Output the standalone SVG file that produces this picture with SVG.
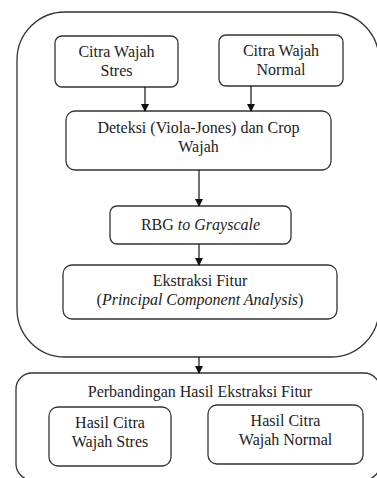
<svg xmlns="http://www.w3.org/2000/svg" width="377" height="478" viewBox="0 0 377 478">
<style>
.box{fill:#fff;stroke:#333;stroke-width:1.3}
.big{fill:none;stroke:#333;stroke-width:1.3}
text{font-family:'Liberation Serif','Times New Roman',Times,serif;font-size:16px;fill:#222;text-anchor:middle}
.i{font-style:italic}
.c{stroke:#111;stroke-width:1.2;fill:none}
</style>
<defs>
<marker id="ah" markerWidth="8" markerHeight="8" refX="7" refY="4" orient="auto" markerUnits="userSpaceOnUse">
<path d="M0,0 L8,4 L0,8 Z" fill="#111"/>
</marker>
</defs>
<rect fill="#fff" width="377" height="478"/>
<g id="outer">
<rect class="big" x="17" y="12" width="362" height="345" rx="48" ry="48"/>
</g>
<g id="compare">
<rect class="big" x="16" y="373" width="364" height="107" rx="16" ry="16"/>
<text x="200" y="397">Perbandingan Hasil Ekstraksi Fitur</text>
</g>
<g id="stres">
<rect class="box" x="55" y="36" width="123" height="51" rx="7"/>
<text x="116.5" y="57">Citra Wajah</text>
<text x="116.5" y="76">Stres</text>
</g>
<g id="normal">
<rect class="box" x="219" y="35" width="124" height="51" rx="7"/>
<text x="281" y="56">Citra Wajah</text>
<text x="281" y="75">Normal</text>
</g>
<g id="deteksi">
<rect class="box" x="66" y="111" width="265" height="59" rx="9"/>
<text x="198.5" y="133">Deteksi (Viola-Jones) dan Crop</text>
<text x="198.5" y="152">Wajah</text>
</g>
<g id="rbg">
<rect class="box" x="110" y="206" width="181" height="38" rx="7"/>
<text x="200.5" y="230">RBG <tspan class="i">to Grayscale</tspan></text>
</g>
<g id="ekstraksi">
<rect class="box" x="63" y="265" width="274" height="54" rx="9"/>
<text x="200" y="286">Ekstraksi Fitur</text>
<text x="200" y="305">(<tspan class="i">Principal Component Analysis</tspan>)</text>
</g>
<g id="hasil-stres">
<rect class="box" x="49" y="407" width="122" height="59" rx="9"/>
<text x="110" y="428">Hasil Citra</text>
<text x="110" y="447">Wajah Stres</text>
</g>
<g id="hasil-normal">
<rect class="box" x="208" y="405" width="155" height="59" rx="9"/>
<text x="285.5" y="426">Hasil Citra</text>
<text x="285.5" y="445">Wajah Normal</text>
</g>
<g id="connectors">
<line class="c" x1="145" y1="87" x2="145" y2="111" marker-end="url(#ah)"/>
<line class="c" x1="251" y1="86" x2="251" y2="111" marker-end="url(#ah)"/>
<line class="c" x1="199" y1="170" x2="199" y2="206" marker-end="url(#ah)"/>
<line class="c" x1="199" y1="244" x2="199" y2="265" marker-end="url(#ah)"/>
<line class="c" x1="199" y1="357" x2="199" y2="373" marker-end="url(#ah)"/>
</g>
</svg>
